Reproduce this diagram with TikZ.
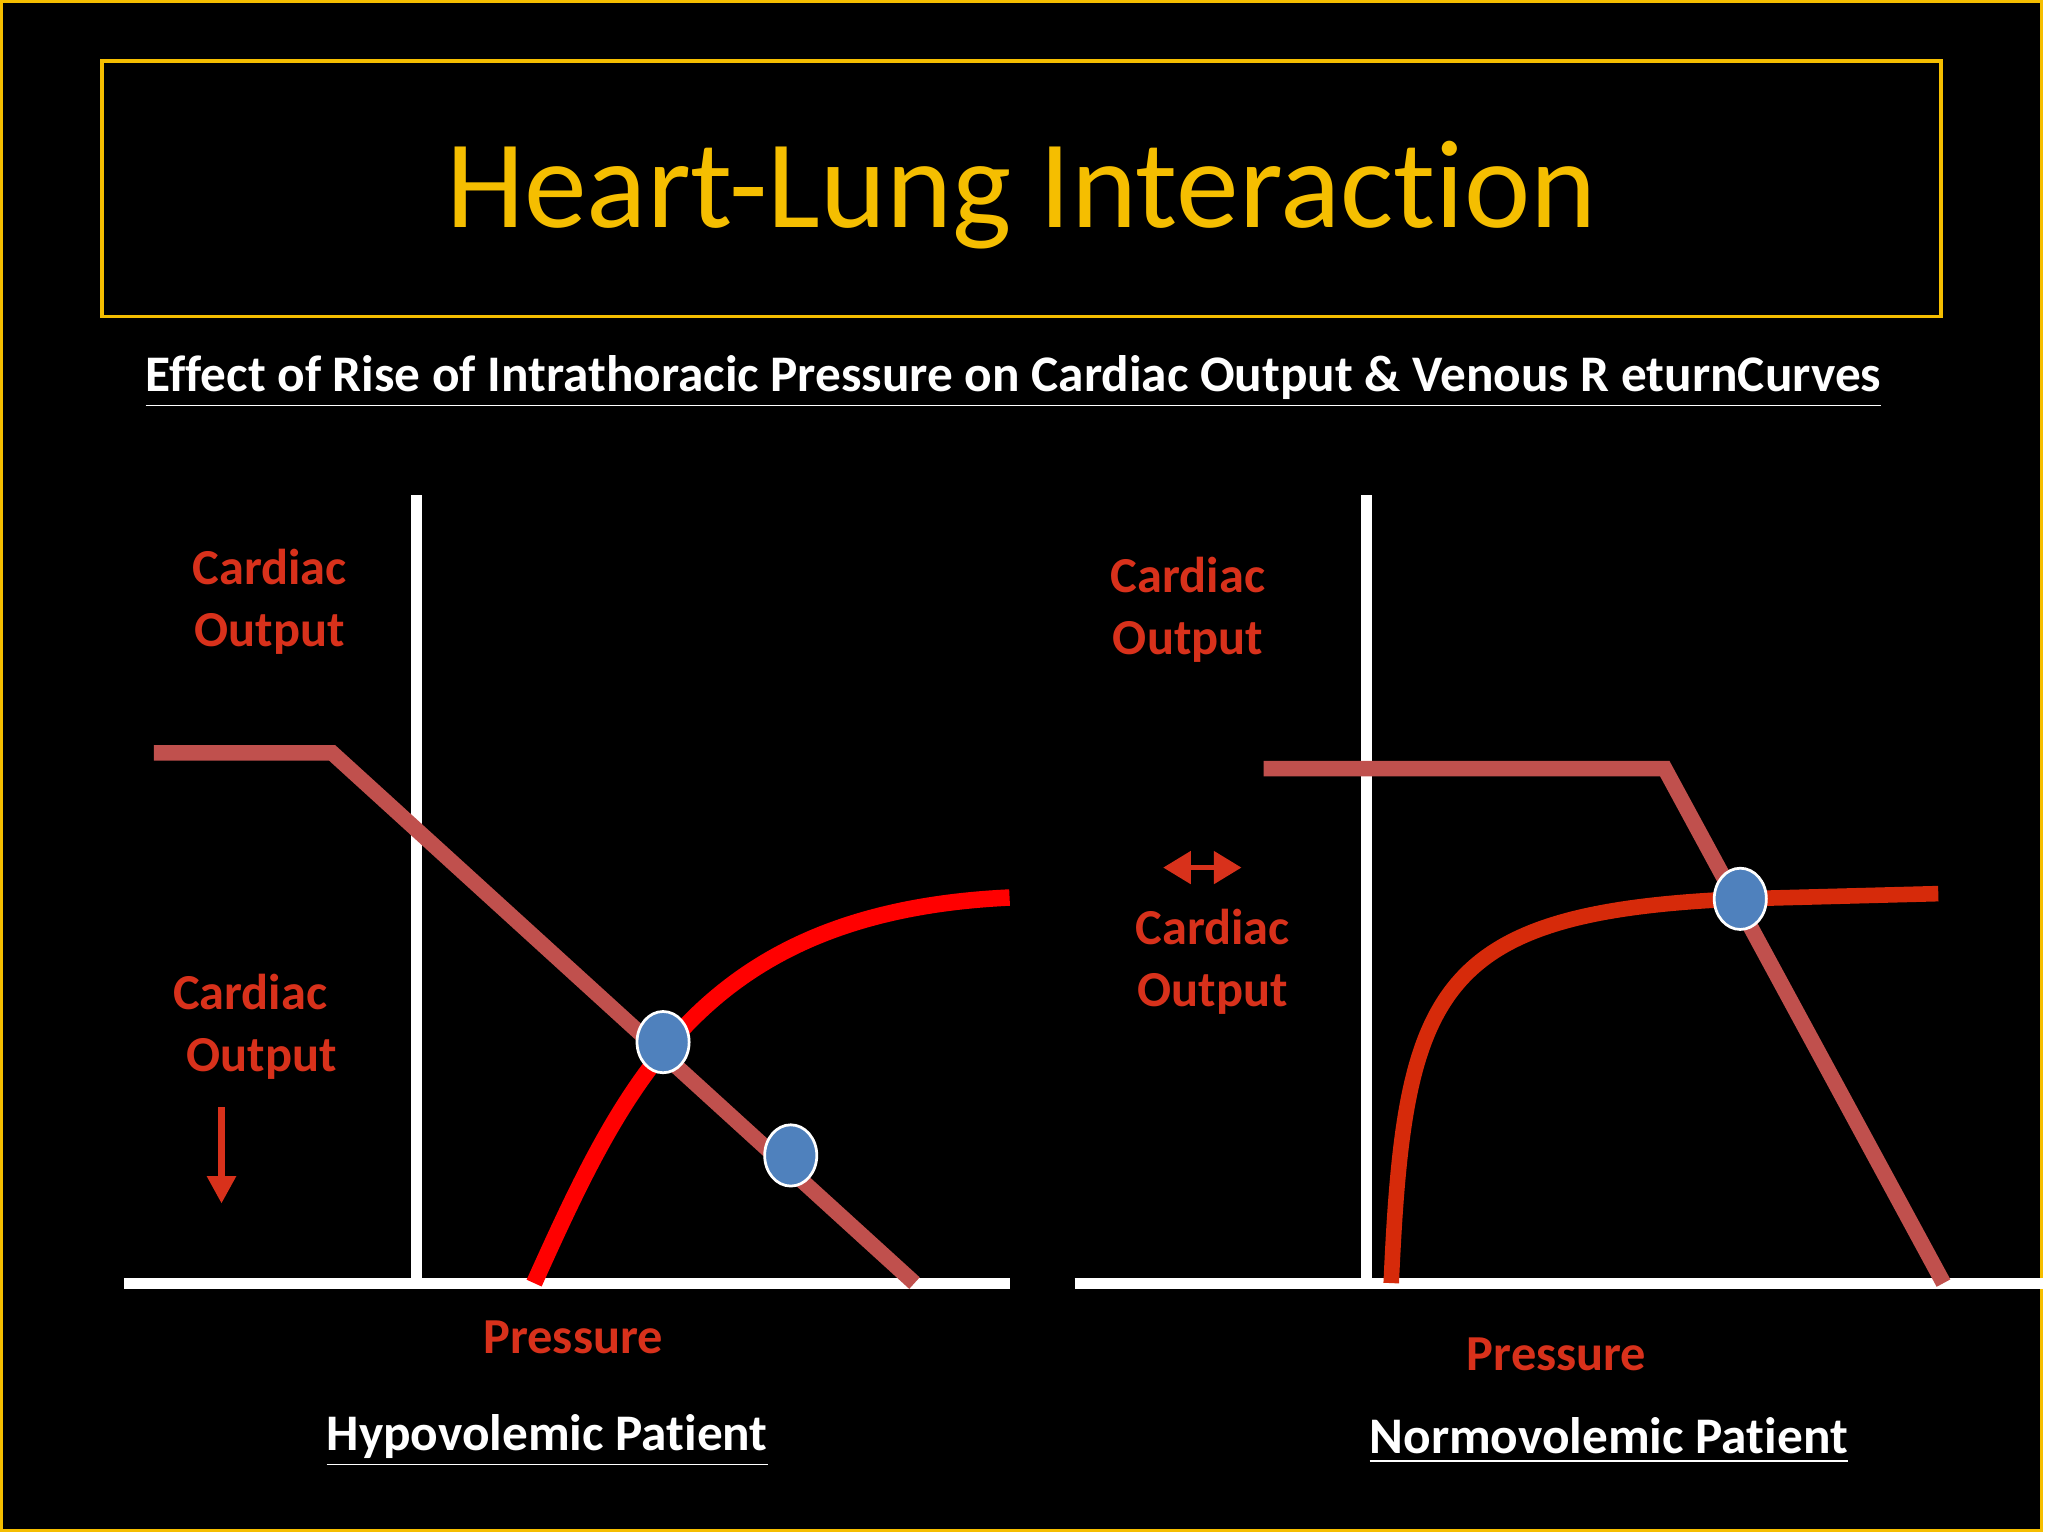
\documentclass[tikz,border=0pt]{standalone}
\usepackage{fontspec}
\setmainfont{Carlito}[Ligatures=NoCommon]
\usetikzlibrary{arrows.meta,shapes.geometric}
\definecolor{gold}{HTML}{F5BE00}
\definecolor{lab}{HTML}{D8311B}
\definecolor{vr}{HTML}{C0504D}
\definecolor{blu}{HTML}{4F81BD}
\definecolor{dred}{HTML}{D62A0A}
\tikzset{
 axis/.style={white,line width=2.4pt},
 vrline/.style={vr,line width=3.4pt},
 lbl/.style={lab,font=\bfseries\fontsize{11}{13.5}\selectfont,align=center},
 dot/.style={ellipse,draw=white,line width=0.6pt,fill=blu,minimum width=0.4cm,minimum height=0.47cm,inner sep=0pt},
 captxt/.style={white,font=\bfseries\fontsize{11.2}{13}\selectfont},
}
\begin{document}
\begin{tikzpicture}[x=0.01cm,y=-0.01cm]
\fill[black] (0,0) rectangle (1568,1176);
\draw[gold,line width=0.6pt] (1,1) rectangle (1567,1175);
\draw[gold,line width=0.8pt] (78,47) rectangle (1490,243);
\node[gold,font=\fontsize{27.4}{30}\selectfont] (title) at (784,150) {Heart-Lung Interaction};
\node[captxt] (sub) at (778,293) {\underline{Effect of Rise of Intrathoracic Pressure on Cardiac Output \& Venous R eturnCurves}};
% left panel
\coordinate (ly1) at (320,380); \coordinate (ly0) at (320,985);
\coordinate (lx0) at (95,985); \coordinate (lx1) at (775,985);
\draw[axis] (ly1) -- (ly0);
\draw[axis] (lx0) -- (lx1);
\coordinate (lv0) at (118,578); \coordinate (lv1) at (255,578); \coordinate (lv2) at (702,985);
\draw[vrline] (lv0) -- (lv1) -- (lv2);
\coordinate (lr0) at (410,985); \coordinate (lr1) at (775,689);
\draw[red,line width=3.6pt] (lr0) .. controls (480,830) and (540,700) .. (lr1);
\node[dot] (ld1) at (509,800) {};
\node[dot] (ld2) at (607,887) {};
\node[lbl] (lc1) at (207,462) {Cardiac\\Output};
\node[lbl] (lc2) at (192,788) {Cardiac\\\ \ Output};
\coordinate (la0) at (170,850); \coordinate (la1) at (170,924);
\draw[lab,line width=1.5pt,-{Triangle[width=6pt,length=6pt]}] (la0) -- (la1);
\node[lbl] (lp) at (440,1027) {Pressure};
\node[captxt] (lt) at (420,1106) {\underline{Hypovolemic Patient}};
% right panel
\coordinate (ry1) at (1049,380); \coordinate (ry0) at (1049,985);
\coordinate (rx0) at (825,985); \coordinate (rx1) at (1568,985);
\draw[axis] (ry1) -- (ry0);
\draw[axis] (rx0) -- (rx1);
\coordinate (rv0) at (970,590); \coordinate (rv1) at (1278,590); \coordinate (rv2) at (1492,985);
\draw[vrline] (rv0) -- (rv1) -- (rv2);
\coordinate (rr0) at (1068,985); \coordinate (rr2) at (1488,686);
\draw[dred,line width=3.4pt] (rr0) .. controls (1078,760) and (1100,700) .. (1336,690) -- (rr2);
\node[dot] (rd1) at (1336,690) {};
\node[lbl] (rc1) at (912,468) {Cardiac\\Output};
\node[lbl] (rc2) at (931,738) {Cardiac\\Output};
\coordinate (ra0) at (893,666); \coordinate (ra1) at (953,666);
\draw[lab,line width=1pt,{Triangle[width=7pt,length=6pt]}-{Triangle[width=7pt,length=6pt]}] (ra0) -- (ra1);
\node[lbl] (rp) at (1195,1040) {Pressure};
\node[captxt] (rt) at (1235,1106) {\underline{Normovolemic Patient}};
\end{tikzpicture}
\end{document}
